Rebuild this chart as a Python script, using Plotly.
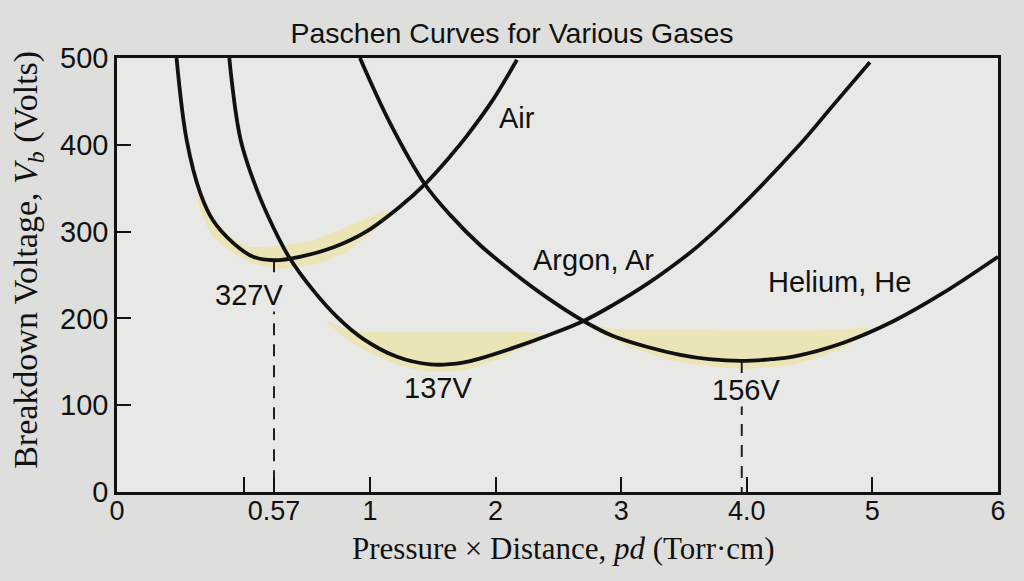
import plotly.graph_objects as go

# ---------------- data (in the drawn axis units) ----------------
air_pd = [-0.54, -0.46, -0.35, -0.25, -0.09, 0.07, 0.24, 0.44, 0.71, 0.97, 1.24, 1.44, 1.64, 1.77, 1.98, 2.17]
air_vb = [500, 406, 344, 313, 287, 271, 267, 271, 282, 300, 329, 355, 387, 410, 452, 498]

argon_pd = [-0.12, -0.03, 0.10, 0.23, 0.35, 0.55, 0.75, 0.94, 1.21, 1.48, 1.74, 1.88, 2.14, 2.41, 2.70,
            2.93, 3.21, 3.47, 3.61, 3.89, 4.42, 4.69, 4.98]
argon_vb = [500, 406, 348, 305, 272, 232, 200, 177, 156, 147, 149, 154, 166, 180, 197,
            215, 240, 267, 283, 320, 400, 446, 495]

helium_pd = [0.92, 1.16, 1.44, 1.64, 1.88, 2.14, 2.41, 2.70, 2.93, 3.21, 3.47, 3.70, 3.96, 4.20, 4.37,
             4.77, 5.17, 5.56, 6.0]
helium_vb = [500, 425, 354, 319, 284, 253, 224, 197, 180, 167, 158, 153, 151, 153, 156,
             172, 197, 229, 271]

# shaded bands around the minima
air_band_pd = [-0.37, -0.25, 0.02, 0.28, 0.55, 0.82, 1.02, 1.14]
air_band_hi = [341, 313, 283, 284, 290, 306, 318, 325]
air_band_lo = [334, 294, 266, 257, 262, 277, 300, 320]

argon_band_pd = [0.66, 0.80, 0.96, 1.23, 1.49, 1.74, 2.01, 2.27, 2.42]
argon_band_hi = [198, 188, 185, 184, 184, 184, 184, 184, 181]
argon_band_lo = [195, 178, 163, 146, 138, 140, 152, 169, 179]

helium_band_pd = [2.76, 2.90, 3.05, 3.44, 3.96, 4.37, 4.77, 4.96]
helium_band_hi = [192, 189, 187, 187, 186, 186, 187, 189]
helium_band_lo = [189, 178, 168, 150, 142, 147, 166, 184]

# minima markers (dashed drops) and labels
air_min = (0.236, 267)
helium_min = (3.96, 151)

gas_labels = ["Air", "Argon, Ar", "Helium, He"]
gas_label_pd = [2.17, 2.78, 4.74]
gas_label_vb = [431, 267, 242]

min_labels = ["327V", "137V", "156V"]
min_label_pd = [0.04, 1.54, 3.99]
min_label_vb = [227, 120, 118]

x_tickvals = [-1.014, 0, 0.236, 1, 2, 3, 4, 5, 6]
x_ticktext = ["0", "", "0.57", "1", "2", "3", "4.0", "5", "6"]
y_tickvals = [0, 100, 200, 300, 400, 500]

x_title = "Pressure × Distance, <i>pd</i> (Torr·cm)"
y_title = "Breakdown Voltage, <i>V<sub>b</sub></i> (Volts)"

# ---------------- styling ----------------
INK = "#111111"
BAND = "#ebe4b6"
PLOT_BG = "#e8e9e6"
PAPER_BG = "#dedfdc"
SANS = "Liberation Sans, Arial, sans-serif"
SERIF = "Liberation Serif, Times New Roman, serif"

fig = go.Figure()

for bx, bh, bl in [(air_band_pd, air_band_hi, air_band_lo),
                   (argon_band_pd, argon_band_hi, argon_band_lo),
                   (helium_band_pd, helium_band_hi, helium_band_lo)]:
    fig.add_trace(go.Scatter(
        x=bx + bx[::-1], y=bh + bl[::-1], fill="toself", fillcolor=BAND,
        mode="lines", line=dict(width=0, color=BAND, shape="spline", smoothing=0.6),
        hoverinfo="skip", showlegend=False))

# dashed drop lines
for (mx, my) in [air_min, helium_min]:
    fig.add_trace(go.Scatter(
        x=[mx, mx], y=[my, 0], mode="lines",
        line=dict(color="#222222", width=2, dash="12px,9px"),
        hoverinfo="skip", showlegend=False))

for px, vb, name in [(air_pd, air_vb, "Air"), (argon_pd, argon_vb, "Argon"), (helium_pd, helium_vb, "Helium")]:
    fig.add_trace(go.Scatter(
        x=px, y=vb, mode="lines", name=name,
        line=dict(color=INK, width=3.8, shape="spline", smoothing=1.0),
        showlegend=False))

for t, x, y in zip(gas_labels, gas_label_pd, gas_label_vb):
    fig.add_annotation(x=x, y=y, text=t, showarrow=False,
                       font=dict(family=SANS, size=29, color=INK))

for t, x, y in zip(min_labels, min_label_pd, min_label_vb):
    fig.add_annotation(x=x, y=y, text=t, showarrow=False, bgcolor=PLOT_BG, borderpad=0,
                       font=dict(family=SANS, size=29, color=INK))

# axis titles (placed as in the reference)
fig.add_annotation(xref="paper", yref="paper", x=0.507, y=-0.131, text=x_title,
                   showarrow=False, xanchor="center", yanchor="middle",
                   font=dict(family=SERIF, size=31, color=INK))
fig.add_annotation(xref="paper", yref="paper", x=-0.101, y=0.535, text=y_title,
                   showarrow=False, xanchor="center", yanchor="middle", textangle=-90,
                   font=dict(family=SERIF, size=34, color=INK))

fig.update_layout(
    width=1024, height=581,
    margin=dict(l=117, r=26, t=58, b=89),
    paper_bgcolor=PAPER_BG, plot_bgcolor=PLOT_BG,
    title=dict(text="Paschen Curves for Various Gases", x=0.5, xanchor="center",
               y=1 - 33 / 581, yanchor="middle", yref="container",
               font=dict(family=SANS, size=28.5, color=INK)),
    showlegend=False,
)

fig.update_xaxes(
    range=[-1.014, 6.0], tickvals=x_tickvals, ticktext=x_ticktext,
    ticks="inside", ticklen=15, tickwidth=2, tickcolor=INK,
    showline=True, linewidth=2.5, linecolor=INK, mirror=True,
    showgrid=False, zeroline=False, automargin=False,
    tickfont=dict(family=SANS, size=27, color=INK), ticklabelstandoff=-7,
)
fig.update_yaxes(
    range=[0, 500], tickvals=y_tickvals,
    ticks="inside", ticklen=14, tickwidth=2, tickcolor=INK,
    showline=True, linewidth=2.5, linecolor=INK, mirror=True,
    showgrid=False, zeroline=False, automargin=False,
    tickfont=dict(family=SANS, size=29, color=INK), ticklabelstandoff=0,
)

fig.write_html("out.html", config={"displayModeBar": False},
               post_script="document.body.style.margin='0';")
